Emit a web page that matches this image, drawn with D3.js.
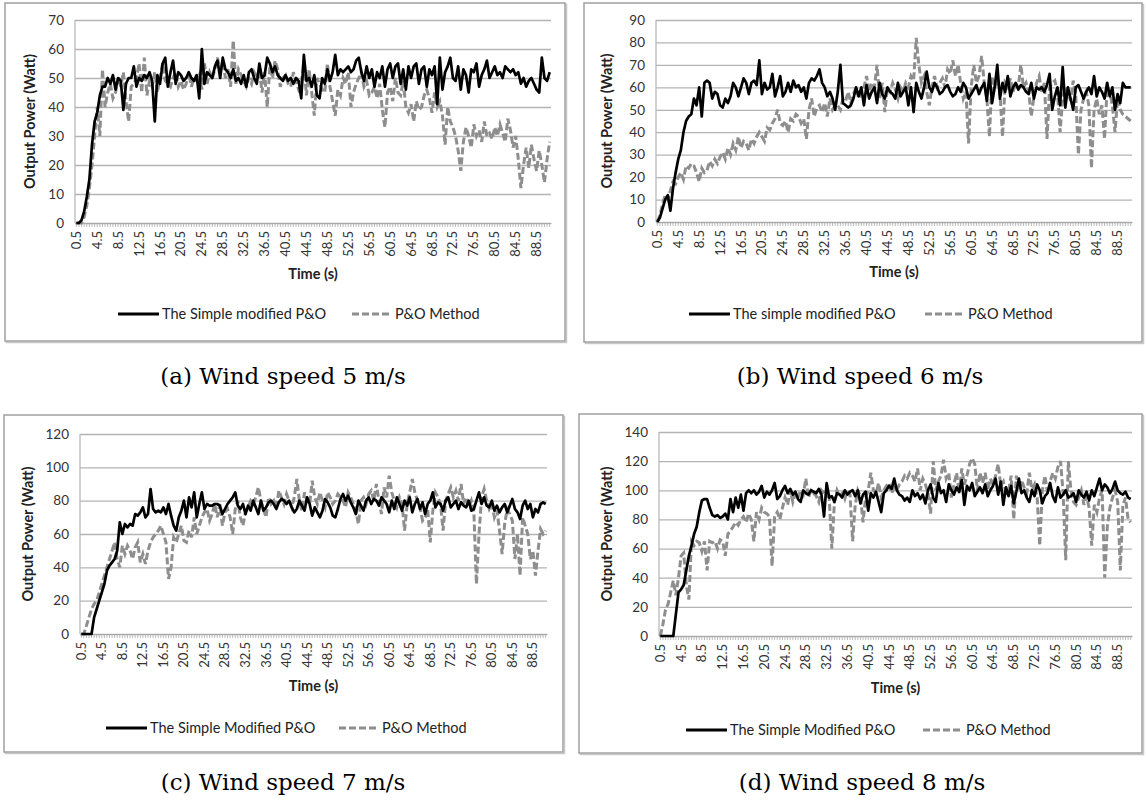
<!DOCTYPE html>
<html>
<head>
<meta charset="utf-8">
<script src="https://cdn.jsdelivr.net/npm/d3@7"></script>
<style>
body { margin: 0; background: #fff; }
svg { display: block; }
text { font-family: Lato, "Open Sans", sans-serif; }
</style>
</head>
<body>
<svg></svg>
<script>
// time categories, 0.5 s steps
const times = d3.range(1, 183).map(i => String(i * 0.5))
const tickLabels = ["0.5", "4.5", "8.5", "12.5", "16.5", "20.5", "24.5", "28.5", "32.5", "36.5", "40.5",
    "44.5", "48.5", "52.5", "56.5", "60.5", "64.5", "68.5", "72.5", "76.5", "80.5", "84.5", "88.5"]

// (a) wind speed 5 m/s
const modA = [
    0, 0, 1, 4, 9, 15, 27, 35, 38, 44,
    47, 47, 50, 48, 51, 46, 50, 49, 39, 48,
    50, 50, 54, 47, 50, 49, 51, 50, 52, 49,
    35, 51, 48, 55, 57, 47, 52, 56, 48, 52,
    51, 49, 50, 52, 50, 49, 51, 43, 60, 48,
    52, 51, 50, 54, 56, 50, 57, 53, 52, 50,
    53, 49, 50, 48, 51, 47, 52, 53, 50, 48,
    55, 50, 51, 57, 55, 52, 54, 51, 50, 49,
    51, 49, 50, 48, 50, 49, 43, 58, 49, 50,
    47, 51, 44, 43, 50, 48, 53, 49, 52, 58,
    51, 53, 52, 53, 54, 52, 53, 56, 57, 52,
    49, 54, 50, 53, 47, 52, 50, 54, 47, 53,
    55, 50, 54, 55, 48, 53, 46, 54, 50, 54,
    55, 48, 53, 54, 47, 53, 51, 54, 41, 57,
    46, 52, 54, 57, 50, 49, 54, 46, 53, 51,
    45, 53, 52, 55, 47, 51, 53, 56, 50, 52,
    54, 51, 52, 50, 54, 53, 52, 53, 51, 52,
    48, 50, 47, 49, 50, 48, 46, 45, 57, 50,
    49, 52]
const poA = [
    0, 0, 0, 2, 6, 12, 20, 30, 40, 30,
    53, 40, 45, 48, 43, 45, 50, 47, 52, 42,
    35, 47, 48, 50, 55, 45, 57, 44, 49, 47,
    52, 45, 50, 55, 49, 48, 47, 50, 52, 47,
    49, 46, 48, 52, 47, 50, 49, 51, 46, 55,
    48, 52, 50, 53, 57, 52, 56, 50, 53, 47,
    63, 48, 53, 51, 49, 47, 50, 48, 52, 50,
    53, 45, 52, 40, 54, 50, 56, 53, 47, 50,
    51, 48, 47, 52, 49, 46, 48, 55, 44, 53,
    45, 37, 50, 48, 46, 45, 55, 47, 42, 37,
    46, 44, 50, 48, 52, 40, 45, 48, 50, 52,
    47, 49, 44, 45, 47, 43, 48, 39, 33, 45,
    47, 42, 50, 45, 44, 49, 40, 38, 41, 35,
    42, 39, 40, 44, 46, 43, 38, 45, 40, 42,
    37, 27, 40, 35, 33, 30, 25, 18, 28, 33,
    30, 26, 34, 30, 32, 28, 35, 30, 31, 29,
    33, 30, 34, 31, 28, 36, 32, 26, 30, 22,
    12, 20, 26, 19, 27, 22, 18, 25, 20, 14,
    22, 28]

// (b) wind speed 6 m/s
const modB = [
    0, 2, 6, 10, 12, 5, 15, 22, 28, 32,
    40, 45, 47, 48, 55, 52, 60, 47, 62, 63,
    62, 55, 58, 57, 52, 51, 55, 53, 56, 62,
    60, 56, 60, 64, 62, 57, 62, 63, 61, 72,
    57, 62, 59, 60, 66, 56, 60, 65, 56, 58,
    62, 58, 63, 60, 61, 58, 60, 55, 62, 64,
    63, 65, 68, 62, 60, 56, 58, 55, 50, 58,
    70, 53, 52, 51, 52, 55, 60, 56, 60, 52,
    61, 55, 58, 60, 53, 62, 57, 55, 60, 58,
    57, 55, 62, 56, 58, 60, 52, 60, 49, 62,
    58, 55, 60, 67, 60, 58, 62, 60, 57, 58,
    60, 61, 58, 56, 57, 60, 58, 62, 60, 55,
    57, 59, 61, 57, 60, 62, 54, 66, 53, 60,
    70, 55, 62, 58, 65, 56, 60, 62, 59, 61,
    60, 58, 57, 62, 55, 60, 59, 60, 58, 61,
    66, 50, 56, 60, 52, 69, 51, 60, 55, 50,
    60, 61, 58, 55, 58, 60, 57, 65, 56, 60,
    58, 55, 62, 56, 60, 50, 57, 53, 62, 60,
    60, 60]
const poB = [
    0, 3, 8, 12, 10, 14, 18, 17, 20, 22,
    19, 25, 24, 26, 25, 22, 18, 24, 22, 23,
    27, 25, 28, 26, 29, 31, 28, 33, 30, 35,
    32, 38, 33, 36, 35, 32, 37, 35, 38, 40,
    38, 36, 42, 41, 44, 46, 50, 44, 43, 45,
    40, 46, 45, 48, 47, 44, 46, 37, 50, 55,
    47, 51, 52, 49, 53, 47, 55, 50, 52, 52,
    50, 55, 54, 58, 53, 57, 60, 55, 58, 60,
    65, 58, 62, 60, 70, 55, 62, 49, 60, 58,
    62, 59, 55, 60, 58, 62, 60, 65, 63, 82,
    70, 62, 65, 58, 52, 60, 65, 60, 62, 64,
    60, 68, 66, 72, 65, 70, 62, 55, 58, 35,
    60, 70, 62, 65, 74, 62, 55, 38, 65, 60,
    64, 58, 38, 62, 60, 64, 58, 62, 60, 70,
    60, 62, 58, 47, 56, 62, 65, 58, 62, 37,
    60, 62, 63, 58, 40, 55, 60, 58, 54, 63,
    56, 30, 50, 55, 58, 52, 24, 50, 55, 48,
    52, 37, 60, 58, 52, 40, 55, 50, 48, 47,
    46, 45]

// (c) wind speed 7 m/s
const modC = [
    0, 0, 0, 0, 0, 10, 15, 20, 25, 30,
    38, 41, 43, 45, 50, 67, 60, 66, 64, 66,
    65, 72, 71, 73, 76, 70, 72, 87, 75, 73,
    74, 73, 76, 72, 78, 71, 65, 62, 70, 74,
    80, 70, 82, 76, 85, 70, 78, 85, 75, 78,
    77, 77, 78, 78, 77, 72, 75, 78, 80, 82,
    85, 77, 75, 78, 72, 77, 74, 80, 76, 72,
    80, 74, 76, 79, 80, 78, 75, 79, 81, 80,
    78, 80, 76, 73, 75, 80, 77, 74, 82, 78,
    71, 76, 73, 70, 74, 81, 79, 76, 71, 70,
    75, 81, 84, 80, 83, 79, 76, 72, 80, 77,
    74, 80, 82, 78, 81, 80, 77, 82, 80, 78,
    73, 80, 75, 82, 78, 74, 80, 77, 82, 73,
    78, 81, 75, 79, 72, 78, 80, 85, 76, 79,
    78, 74, 80, 82, 76, 78, 80, 75, 79, 77,
    76, 80, 74, 75, 80, 85, 78, 82, 77, 76,
    80, 74, 77, 73, 76, 78, 73, 77, 81, 75,
    73, 69, 77, 80, 75, 78, 70, 75, 73, 78,
    79, 78]
const poC = [
    0, 0, 5, 10, 15, 18, 20, 25, 30, 35,
    40, 45, 50, 55, 45, 40, 53, 48, 53, 50,
    45, 52, 55, 43, 48, 42, 50, 55, 58, 60,
    62, 65, 60, 55, 33, 40, 58, 55, 60, 65,
    56, 55, 62, 58, 70, 60, 65, 70, 73, 75,
    68, 72, 78, 70, 78, 65, 73, 75, 70, 60,
    75, 80, 70, 65, 73, 76, 80, 78, 82, 88,
    80, 75, 70, 82, 78, 80, 75, 86, 82, 78,
    84, 80, 76, 82, 93, 80, 74, 85, 80, 78,
    92, 82, 78, 85, 80, 76, 85, 82, 78, 80,
    84, 82, 80, 76, 85, 82, 78, 74, 66, 80,
    82, 78, 84, 86, 80, 90, 80, 72, 88, 82,
    95, 85, 80, 76, 82, 78, 62, 78, 85, 93,
    85, 80, 76, 68, 70, 75, 55, 74, 85, 82,
    78, 62, 80, 84, 88, 82, 86, 80, 90, 78,
    82, 76, 80, 73, 30, 60, 82, 87, 80, 75,
    78, 70, 74, 62, 48, 66, 75, 72, 68, 45,
    60, 35, 70, 65, 60, 45, 50, 35, 50, 63,
    60, 62]

// (d) wind speed 8 m/s
const modD = [
    0, 0, 0, 0, 0, 0, 15, 30, 32, 35,
    45, 55, 62, 70, 75, 85, 93, 94, 94, 88,
    83, 82, 83, 81, 82, 84, 80, 94, 85, 95,
    88, 97, 86, 98, 100, 98, 100, 97, 99, 103,
    95, 99, 97, 100, 105, 94, 96, 100, 103, 98,
    101, 97, 99, 94, 92, 100, 98, 97, 100, 99,
    98, 101, 97, 82, 105, 95, 96, 92, 98, 97,
    95, 100, 97, 99, 100, 96, 100, 91, 97, 99,
    86, 98, 95, 99, 92, 85, 98, 100, 103, 101,
    108, 100, 97, 96, 93, 95, 92, 100, 96, 98,
    94, 97, 91, 100, 104, 95, 92, 105, 98, 100,
    92, 104, 100, 97, 102, 99, 107, 90, 103, 100,
    105, 96, 99, 102, 98, 104, 96, 100, 103, 108,
    97, 106, 90, 102, 96, 103, 91, 99, 108, 98,
    100, 95, 92, 100, 96, 104, 100, 91, 96, 98,
    105, 96, 92, 102, 95, 97, 100, 95, 96, 98,
    92, 100, 97, 95, 99, 93, 100, 96, 102, 108,
    100, 104, 102, 98, 101, 106, 100, 98, 97, 99,
    95, 94]
const poD = [
    0, 8, 18, 22, 30, 38, 28, 40, 55, 57,
    35, 25, 65, 62, 65, 64, 58, 65, 45, 65,
    64, 65, 60, 66, 65, 55, 70, 72, 75, 78,
    76, 80, 82, 78, 84, 80, 65, 85, 80, 88,
    85, 84, 82, 48, 82, 85, 80, 88, 95, 90,
    100, 92, 98, 95, 100, 97, 108, 95, 100, 98,
    96, 92, 100, 98, 96, 95, 60, 92, 100, 96,
    98, 94, 100, 97, 65, 90, 100, 96, 78, 95,
    100, 112, 100, 98, 105, 95, 100, 103, 105, 98,
    102, 100, 104, 106, 110, 108, 112, 110, 106, 115,
    100, 108, 104, 98, 84, 120, 100, 106, 110, 121,
    108, 112, 95, 104, 112, 98, 115, 104, 110, 118,
    122, 118, 100, 112, 105, 112, 100, 108, 104, 110,
    118, 103, 106, 98, 100, 110, 80, 110, 100, 107,
    102, 98, 112, 100, 104, 95, 62, 100, 110, 98,
    106, 112, 108, 116, 120, 98, 52, 120, 100, 92,
    90, 95, 100, 90, 96, 88, 62, 90, 85, 95,
    100, 40, 75, 88, 95, 100, 92, 45, 90, 95,
    80, 78]

const modLabels = ["The Simple modified P&O", "The simple modified P&O", "The Simple Modified P&O", "The Simple Modified P&O"]
const poLabel = "P&O Method"
const captions = ["(a) Wind speed 5 m/s", "(b) Wind speed 6 m/s", "(c) Wind speed 7 m/s", "(d) Wind speed 8 m/s"]
const yMaxes = [70, 90, 120, 140]
const ySteps = [10, 10, 20, 20]

// layout of the four panels
const panels = [
    { frame: [5, 3, 560, 338], l: 75, r: 551, t: 20, b: 223, titleX: 35, timeY: 279, legY: 314, legX: [118, 352], capX: 283, capY: 384, mod: modA, po: poA },
    { frame: [584, 3, 558, 339], l: 656, r: 1132, t: 20, b: 222, titleX: 612, timeY: 277, legY: 314, legX: [689, 925], capX: 860, capY: 384, mod: modB, po: poB },
    { frame: [4, 415, 559, 337], l: 80, r: 547, t: 434, b: 634, titleX: 33, timeY: 691, legY: 728, legX: [106, 339], capX: 283, capY: 790, mod: modC, po: poC },
    { frame: [579, 414, 563, 339], l: 659, r: 1132, t: 432, b: 636, titleX: 612, timeY: 693, legY: 730, legX: [686, 923], capX: 862, capY: 790, mod: modD, po: poD }
]

const svg = d3.select("svg").attr("width", 1146).attr("height", 805)

panels.forEach((p, k) => drawPanel(p, k))

function drawPanel(p, k) {
    const g = svg.append("g")
    const [fx, fy, fw, fh] = p.frame

    // slight shadow on the bottom / right of the chart box
    g.append("rect")
        .attr("x", fx + 1.5).attr("y", fy + 1.5).attr("width", fw).attr("height", fh)
        .attr("fill", "none").attr("stroke", "#c8c8c8").attr("stroke-width", 1.5)
    g.append("rect")
        .attr("x", fx).attr("y", fy).attr("width", fw).attr("height", fh)
        .attr("fill", "#fff").attr("stroke", "#a0a0a0").attr("stroke-width", 1.5)

    const x = d3.scaleBand().domain(times).range([p.l, p.r])
    const y = d3.scaleLinear().domain([0, yMaxes[k]]).range([p.b, p.t])
    const cx = t => x(t) + x.bandwidth() / 2

    // horizontal grid + y labels
    g.append("g")
        .attr("transform", `translate(${p.l},0)`)
        .call(d3.axisLeft(y)
            .tickValues(d3.range(0, yMaxes[k] + 1, ySteps[k]))
            .tickSize(-(p.r - p.l))
            .tickPadding(11))
        .call(a => a.select(".domain").remove())
        .call(a => a.selectAll("line").attr("stroke", "#b4b4b4").attr("stroke-width", 1.3))
        .call(a => a.selectAll("text").attr("fill", "#333").style("font-size", "13.5px").style("font-family", "Lato"))

    // left axis line
    g.append("line")
        .attr("x1", p.l).attr("x2", p.l).attr("y1", p.t).attr("y2", p.b)
        .attr("stroke", "#b4b4b4").attr("stroke-width", 1.2)

    // category axis with a tick at every sample
    const xTicks = d3.axisBottom(x).tickSizeOuter(0).tickSizeInner(4).tickFormat("")
    g.append("g")
        .attr("transform", `translate(0,${p.b})`)
        .call(xTicks)
        .call(a => a.selectAll("line").attr("stroke", "#a8a8a8").attr("stroke-width", 0.8))
        .call(a => a.select(".domain").attr("stroke", "#a8a8a8").attr("stroke-width", 1.2))

    g.append("g").selectAll("text")
        .data(tickLabels)
        .join("text")
        .attr("transform", d => `translate(${cx(d) + 4.5},${p.b + 8}) rotate(-90)`)
        .attr("text-anchor", "end")
        .attr("fill", "#333")
        .style("font-size", "13px")
        .text(d => d)

    // axis titles
    g.append("text")
        .attr("x", (p.l + p.r) / 2).attr("y", p.timeY)
        .attr("text-anchor", "middle")
        .style("font-size", "14.5px").style("font-weight", "bold")
        .attr("fill", "#222")
        .text("Time (s)")

    g.append("text")
        .attr("transform", `translate(${p.titleX},${(p.t + p.b) / 2}) rotate(-90)`)
        .attr("text-anchor", "middle")
        .style("font-size", "14.5px").style("font-weight", "bold")
        .attr("fill", "#222")
        .text("Output Power (Watt)")

    // series
    const line = d3.line().x((d, i) => cx(times[i])).y(d => y(d))

    g.append("path")
        .datum(p.po)
        .attr("d", line)
        .attr("fill", "none")
        .attr("stroke", "#8e8e8e")
        .attr("stroke-width", 3)
        .attr("stroke-dasharray", "7,3")

    g.append("path")
        .datum(p.mod)
        .attr("d", line)
        .attr("fill", "none")
        .attr("stroke", "#000")
        .attr("stroke-width", 2.7)
        .attr("stroke-linejoin", "round")

    // legend
    const leg = g.append("g").attr("transform", `translate(0,${p.legY})`)
    leg.append("line")
        .attr("x1", p.legX[0]).attr("x2", p.legX[0] + 41)
        .attr("stroke", "#000").attr("stroke-width", 3.2)
    leg.append("text")
        .attr("x", p.legX[0] + 44).attr("dy", "0.35em")
        .style("font-size", "14.5px").attr("fill", "#222")
        .text(modLabels[k])
    leg.append("line")
        .attr("x1", p.legX[1]).attr("x2", p.legX[1] + 38)
        .attr("stroke", "#8e8e8e").attr("stroke-width", 3.2)
        .attr("stroke-dasharray", "7,3")
    leg.append("text")
        .attr("x", p.legX[1] + 43).attr("dy", "0.35em")
        .style("font-size", "14.5px").attr("fill", "#222")
        .text(poLabel)

    // sub-figure caption
    svg.append("text")
        .attr("x", p.capX).attr("y", p.capY)
        .attr("text-anchor", "middle")
        .style("font-family", "'DejaVu Serif', serif")
        .style("font-size", "23px")
        .attr("fill", "#000")
        .text(captions[k])
}
</script>
</body>
</html>
